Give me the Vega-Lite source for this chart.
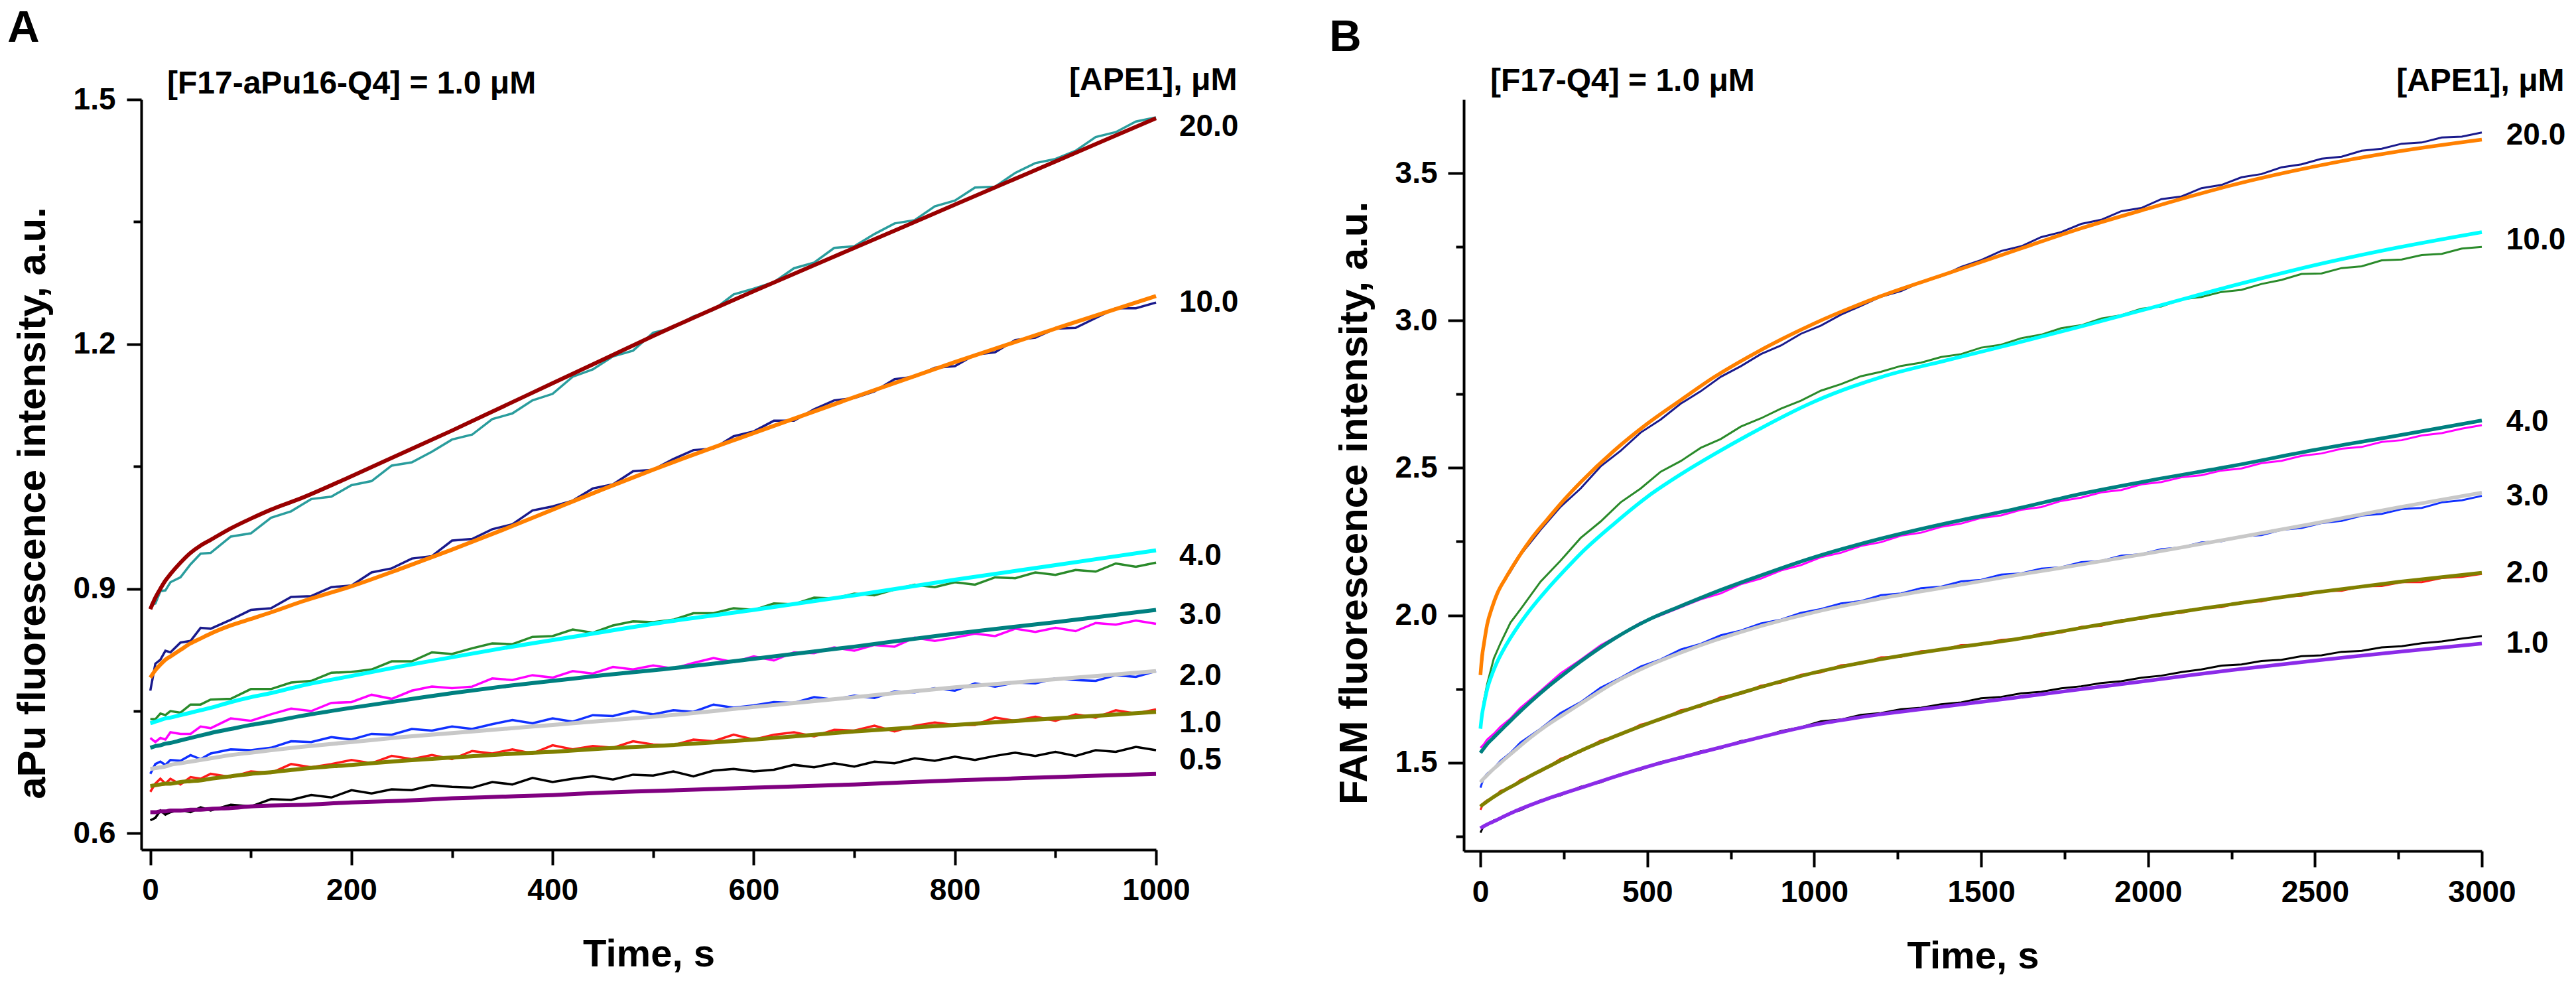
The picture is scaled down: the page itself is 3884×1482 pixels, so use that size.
{
  "$schema": "https://vega.github.io/schema/vega-lite/v6.json",
  "background": "white",
  "padding": {"left": 11, "top": 8, "right": 5, "bottom": 5},
  "spacing": 136,
  "bounds": "full",
  "align": "none",
  "resolve": {"scale": {"color": "independent", "x": "independent", "y": "independent"}},
  "config": {
    "view": {"stroke": null},
    "font": "Liberation Sans",
    "axis": {
      "grid": false, "domainColor": "#000", "domainWidth": 4, "tickColor": "#000", "tickWidth": 4,
      "labelColor": "#000", "labelFont": "Liberation Sans", "labelFontSize": 46, "labelFontWeight": "bold",
      "titleColor": "#000", "titleFont": "Liberation Sans", "titleFontSize": 58, "titleFontWeight": "bold",
      "labelFlush": false, "labelOverlap": false, "labelBound": false
    },
    "text": {"font": "Liberation Sans", "fontWeight": "bold", "color": "#000"}
  },
  "datasets": {
    "aData": [
      {"t":0,"a":0.880,"b":0.775,"c":0.740,"d":0.717,"e":0.673,"f":0.651,"g":0.616},
      {"t":5,"a":0.882,"b":0.808,"c":0.740,"d":0.712,"e":0.685,"f":0.661,"g":0.619},
      {"t":10,"a":0.897,"b":0.813,"c":0.747,"d":0.717,"e":0.688,"f":0.667,"g":0.628},
      {"t":15,"a":0.898,"b":0.824,"c":0.745,"d":0.715,"e":0.684,"f":0.661,"g":0.623},
      {"t":20,"a":0.908,"b":0.822,"c":0.750,"d":0.724,"e":0.690,"f":0.667,"g":0.626},
      {"t":30,"a":0.914,"b":0.834,"c":0.748,"d":0.722,"e":0.689,"f":0.660,"g":0.629},
      {"t":40,"a":0.930,"b":0.836,"c":0.758,"d":0.722,"e":0.696,"f":0.669,"g":0.626},
      {"t":50,"a":0.943,"b":0.852,"c":0.758,"d":0.731,"e":0.691,"f":0.667,"g":0.632},
      {"t":60,"a":0.944,"b":0.851,"c":0.764,"d":0.729,"e":0.698,"f":0.673,"g":0.628},
      {"t":80,"a":0.964,"b":0.862,"c":0.765,"d":0.741,"e":0.703,"f":0.669,"g":0.635},
      {"t":100,"a":0.968,"b":0.874,"c":0.777,"d":0.738,"e":0.702,"f":0.676,"g":0.633},
      {"t":120,"a":0.987,"b":0.876,"c":0.777,"d":0.746,"e":0.705,"f":0.674,"g":0.642},
      {"t":140,"a":0.995,"b":0.890,"c":0.785,"d":0.753,"e":0.713,"f":0.685,"g":0.641},
      {"t":160,"a":1.010,"b":0.891,"c":0.787,"d":0.750,"e":0.712,"f":0.681,"g":0.647},
      {"t":180,"a":1.013,"b":0.902,"c":0.797,"d":0.760,"e":0.718,"f":0.685,"g":0.644},
      {"t":200,"a":1.027,"b":0.904,"c":0.798,"d":0.761,"e":0.715,"f":0.690,"g":0.653},
      {"t":220,"a":1.032,"b":0.920,"c":0.801,"d":0.770,"e":0.722,"f":0.686,"g":0.649},
      {"t":240,"a":1.051,"b":0.925,"c":0.811,"d":0.765,"e":0.721,"f":0.695,"g":0.654},
      {"t":260,"a":1.055,"b":0.937,"c":0.811,"d":0.775,"e":0.728,"f":0.691,"g":0.653},
      {"t":280,"a":1.068,"b":0.940,"c":0.822,"d":0.780,"e":0.726,"f":0.696,"g":0.659},
      {"t":300,"a":1.083,"b":0.959,"c":0.820,"d":0.778,"e":0.731,"f":0.691,"g":0.657},
      {"t":320,"a":1.089,"b":0.961,"c":0.827,"d":0.780,"e":0.728,"f":0.701,"g":0.656},
      {"t":340,"a":1.108,"b":0.973,"c":0.833,"d":0.790,"e":0.734,"f":0.698,"g":0.663},
      {"t":360,"a":1.115,"b":0.979,"c":0.832,"d":0.788,"e":0.739,"f":0.703,"g":0.660},
      {"t":380,"a":1.131,"b":0.996,"c":0.841,"d":0.794,"e":0.735,"f":0.698,"g":0.668},
      {"t":400,"a":1.139,"b":1.001,"c":0.842,"d":0.791,"e":0.741,"f":0.708,"g":0.663},
      {"t":420,"a":1.160,"b":1.008,"c":0.850,"d":0.799,"e":0.737,"f":0.703,"g":0.667},
      {"t":440,"a":1.169,"b":1.023,"c":0.846,"d":0.796,"e":0.745,"f":0.707,"g":0.670},
      {"t":460,"a":1.185,"b":1.028,"c":0.855,"d":0.804,"e":0.744,"f":0.705,"g":0.666},
      {"t":480,"a":1.192,"b":1.044,"c":0.860,"d":0.801,"e":0.750,"f":0.713,"g":0.672},
      {"t":500,"a":1.214,"b":1.046,"c":0.859,"d":0.806,"e":0.746,"f":0.709,"g":0.671},
      {"t":520,"a":1.220,"b":1.059,"c":0.862,"d":0.802,"e":0.751,"f":0.708,"g":0.676},
      {"t":540,"a":1.234,"b":1.070,"c":0.870,"d":0.809,"e":0.749,"f":0.715,"g":0.670},
      {"t":560,"a":1.242,"b":1.072,"c":0.870,"d":0.815,"e":0.758,"f":0.713,"g":0.677},
      {"t":580,"a":1.261,"b":1.087,"c":0.876,"d":0.810,"e":0.754,"f":0.721,"g":0.679},
      {"t":600,"a":1.268,"b":1.093,"c":0.874,"d":0.817,"e":0.757,"f":0.715,"g":0.676},
      {"t":620,"a":1.276,"b":1.106,"c":0.882,"d":0.812,"e":0.761,"f":0.721,"g":0.678},
      {"t":640,"a":1.293,"b":1.106,"c":0.881,"d":0.822,"e":0.760,"f":0.724,"g":0.684},
      {"t":660,"a":1.300,"b":1.120,"c":0.889,"d":0.821,"e":0.767,"f":0.719,"g":0.681},
      {"t":680,"a":1.318,"b":1.131,"c":0.888,"d":0.828,"e":0.764,"f":0.727,"g":0.686},
      {"t":700,"a":1.320,"b":1.134,"c":0.894,"d":0.824,"e":0.769,"f":0.726,"g":0.682},
      {"t":720,"a":1.335,"b":1.142,"c":0.892,"d":0.831,"e":0.766,"f":0.732,"g":0.688},
      {"t":740,"a":1.348,"b":1.157,"c":0.899,"d":0.829,"e":0.774,"f":0.725,"g":0.686},
      {"t":760,"a":1.352,"b":1.160,"c":0.905,"d":0.840,"e":0.773,"f":0.732,"g":0.692},
      {"t":780,"a":1.369,"b":1.171,"c":0.902,"d":0.836,"e":0.778,"f":0.736,"g":0.689},
      {"t":800,"a":1.376,"b":1.173,"c":0.908,"d":0.840,"e":0.775,"f":0.733,"g":0.694},
      {"t":820,"a":1.392,"b":1.187,"c":0.905,"d":0.845,"e":0.784,"f":0.733,"g":0.690},
      {"t":840,"a":1.393,"b":1.190,"c":0.914,"d":0.842,"e":0.780,"f":0.742,"g":0.695},
      {"t":860,"a":1.410,"b":1.205,"c":0.913,"d":0.851,"e":0.785,"f":0.738,"g":0.699},
      {"t":880,"a":1.422,"b":1.208,"c":0.920,"d":0.847,"e":0.784,"f":0.743,"g":0.695},
      {"t":900,"a":1.427,"b":1.219,"c":0.917,"d":0.852,"e":0.790,"f":0.738,"g":0.700},
      {"t":920,"a":1.437,"b":1.220,"c":0.923,"d":0.848,"e":0.788,"f":0.746,"g":0.695},
      {"t":940,"a":1.454,"b":1.232,"c":0.921,"d":0.858,"e":0.787,"f":0.742,"g":0.702},
      {"t":960,"a":1.460,"b":1.244,"c":0.931,"d":0.856,"e":0.794,"f":0.751,"g":0.700},
      {"t":980,"a":1.473,"b":1.244,"c":0.927,"d":0.861,"e":0.792,"f":0.747,"g":0.706},
      {"t":1000,"a":1.478,"b":1.251,"c":0.932,"d":0.857,"e":0.799,"f":0.752,"g":0.702}
    ],
    "aFit": [
      {"t":0,"a":0.875,"b":0.791,"c":0.735,"d":0.705,"e":0.679,"f":0.658,"g":0.626},
      {"t":5,"a":0.889,"b":0.800,"c":0.737,"d":0.707,"e":0.680,"f":0.659,"g":0.626},
      {"t":10,"a":0.900,"b":0.807,"c":0.739,"d":0.708,"e":0.681,"f":0.660,"g":0.627},
      {"t":15,"a":0.910,"b":0.813,"c":0.741,"d":0.710,"e":0.682,"f":0.661,"g":0.627},
      {"t":20,"a":0.918,"b":0.817,"c":0.742,"d":0.711,"e":0.684,"f":0.661,"g":0.628},
      {"t":30,"a":0.932,"b":0.825,"c":0.745,"d":0.714,"e":0.686,"f":0.663,"g":0.628},
      {"t":40,"a":0.944,"b":0.833,"c":0.748,"d":0.717,"e":0.688,"f":0.664,"g":0.629},
      {"t":50,"a":0.953,"b":0.839,"c":0.751,"d":0.720,"e":0.690,"f":0.665,"g":0.629},
      {"t":60,"a":0.960,"b":0.845,"c":0.754,"d":0.723,"e":0.692,"f":0.667,"g":0.630},
      {"t":80,"a":0.974,"b":0.855,"c":0.761,"d":0.728,"e":0.696,"f":0.670,"g":0.631},
      {"t":100,"a":0.986,"b":0.863,"c":0.767,"d":0.733,"e":0.699,"f":0.673,"g":0.633},
      {"t":120,"a":0.997,"b":0.871,"c":0.772,"d":0.737,"e":0.702,"f":0.675,"g":0.634},
      {"t":150,"a":1.011,"b":0.884,"c":0.781,"d":0.744,"e":0.706,"f":0.679,"g":0.635},
      {"t":200,"a":1.038,"b":0.903,"c":0.793,"d":0.754,"e":0.712,"f":0.684,"g":0.638},
      {"t":250,"a":1.066,"b":0.925,"c":0.805,"d":0.763,"e":0.718,"f":0.689,"g":0.640},
      {"t":300,"a":1.094,"b":0.948,"c":0.816,"d":0.772,"e":0.723,"f":0.693,"g":0.643},
      {"t":350,"a":1.123,"b":0.972,"c":0.827,"d":0.780,"e":0.728,"f":0.697,"g":0.645},
      {"t":400,"a":1.152,"b":0.997,"c":0.837,"d":0.787,"e":0.733,"f":0.700,"g":0.647},
      {"t":450,"a":1.181,"b":1.022,"c":0.847,"d":0.794,"e":0.738,"f":0.704,"g":0.650},
      {"t":500,"a":1.210,"b":1.046,"c":0.857,"d":0.800,"e":0.743,"f":0.707,"g":0.652},
      {"t":600,"a":1.265,"b":1.091,"c":0.874,"d":0.814,"e":0.755,"f":0.715,"g":0.656},
      {"t":700,"a":1.318,"b":1.135,"c":0.892,"d":0.829,"e":0.767,"f":0.725,"g":0.660},
      {"t":800,"a":1.371,"b":1.178,"c":0.911,"d":0.845,"e":0.779,"f":0.733,"g":0.665},
      {"t":900,"a":1.424,"b":1.219,"c":0.929,"d":0.859,"e":0.789,"f":0.741,"g":0.669},
      {"t":1000,"a":1.477,"b":1.259,"c":0.947,"d":0.874,"e":0.799,"f":0.749,"g":0.673}
    ],
    "bData": [
      {"t":0,"a":1.800,"b":1.618,"c":1.550,"d":1.415,"e":1.340,"f":1.262},
      {"t":10,"a":1.895,"b":1.708,"c":1.562,"d":1.448,"e":1.364,"f":1.286},
      {"t":20,"a":1.972,"b":1.766,"c":1.578,"d":1.462,"e":1.372,"f":1.288},
      {"t":40,"a":2.041,"b":1.853,"c":1.598,"d":1.480,"e":1.381,"f":1.304},
      {"t":60,"a":2.098,"b":1.905,"c":1.622,"d":1.506,"e":1.404,"f":1.309},
      {"t":90,"a":2.148,"b":1.975,"c":1.650,"d":1.533,"e":1.414,"f":1.330},
      {"t":120,"a":2.205,"b":2.020,"c":1.686,"d":1.568,"e":1.442,"f":1.338},
      {"t":180,"a":2.290,"b":2.114,"c":1.743,"d":1.615,"e":1.469,"f":1.372},
      {"t":240,"a":2.368,"b":2.185,"c":1.803,"d":1.668,"e":1.513,"f":1.389},
      {"t":300,"a":2.430,"b":2.262,"c":1.849,"d":1.705,"e":1.537,"f":1.418},
      {"t":360,"a":2.505,"b":2.318,"c":1.898,"d":1.754,"e":1.575,"f":1.433},
      {"t":420,"a":2.558,"b":2.383,"c":1.935,"d":1.788,"e":1.594,"f":1.461},
      {"t":480,"a":2.620,"b":2.430,"c":1.975,"d":1.826,"e":1.629,"f":1.476},
      {"t":540,"a":2.664,"b":2.487,"c":2.000,"d":1.850,"e":1.645,"f":1.502},
      {"t":600,"a":2.718,"b":2.523,"c":2.027,"d":1.884,"e":1.678,"f":1.514},
      {"t":660,"a":2.760,"b":2.568,"c":2.054,"d":1.903,"e":1.690,"f":1.538},
      {"t":720,"a":2.809,"b":2.598,"c":2.074,"d":1.932,"e":1.722,"f":1.549},
      {"t":780,"a":2.845,"b":2.640,"c":2.105,"d":1.948,"e":1.733,"f":1.573},
      {"t":840,"a":2.886,"b":2.668,"c":2.124,"d":1.972,"e":1.761,"f":1.584},
      {"t":900,"a":2.915,"b":2.701,"c":2.152,"d":1.985,"e":1.771,"f":1.607},
      {"t":960,"a":2.955,"b":2.728,"c":2.170,"d":2.008,"e":1.798,"f":1.620},
      {"t":1020,"a":2.983,"b":2.762,"c":2.197,"d":2.021,"e":1.806,"f":1.640},
      {"t":1080,"a":3.020,"b":2.784,"c":2.212,"d":2.040,"e":1.830,"f":1.646},
      {"t":1140,"a":3.050,"b":2.811,"c":2.235,"d":2.048,"e":1.835,"f":1.662},
      {"t":1200,"a":3.081,"b":2.826,"c":2.248,"d":2.068,"e":1.857,"f":1.668},
      {"t":1260,"a":3.100,"b":2.846,"c":2.270,"d":2.074,"e":1.859,"f":1.681},
      {"t":1320,"a":3.131,"b":2.857,"c":2.280,"d":2.092,"e":1.878,"f":1.686},
      {"t":1380,"a":3.150,"b":2.876,"c":2.300,"d":2.097,"e":1.881,"f":1.698},
      {"t":1440,"a":3.182,"b":2.886,"c":2.311,"d":2.115,"e":1.899,"f":1.704},
      {"t":1500,"a":3.205,"b":2.908,"c":2.330,"d":2.120,"e":1.900,"f":1.718},
      {"t":1560,"a":3.236,"b":2.918,"c":2.339,"d":2.138,"e":1.917,"f":1.723},
      {"t":1620,"a":3.252,"b":2.940,"c":2.358,"d":2.142,"e":1.919,"f":1.735},
      {"t":1680,"a":3.283,"b":2.952,"c":2.367,"d":2.158,"e":1.938,"f":1.740},
      {"t":1740,"a":3.300,"b":2.974,"c":2.388,"d":2.163,"e":1.941,"f":1.752},
      {"t":1800,"a":3.328,"b":2.984,"c":2.399,"d":2.180,"e":1.961,"f":1.759},
      {"t":1860,"a":3.342,"b":3.007,"c":2.417,"d":2.184,"e":1.964,"f":1.770},
      {"t":1920,"a":3.371,"b":3.018,"c":2.425,"d":2.202,"e":1.984,"f":1.776},
      {"t":1980,"a":3.382,"b":3.040,"c":2.444,"d":2.207,"e":1.987,"f":1.788},
      {"t":2040,"a":3.412,"b":3.048,"c":2.452,"d":2.224,"e":2.005,"f":1.795},
      {"t":2100,"a":3.421,"b":3.072,"c":2.468,"d":2.230,"e":2.008,"f":1.807},
      {"t":2160,"a":3.449,"b":3.080,"c":2.475,"d":2.247,"e":2.025,"f":1.816},
      {"t":2220,"a":3.460,"b":3.097,"c":2.491,"d":2.251,"e":2.027,"f":1.829},
      {"t":2280,"a":3.486,"b":3.104,"c":2.498,"d":2.268,"e":2.045,"f":1.833},
      {"t":2340,"a":3.497,"b":3.124,"c":2.516,"d":2.272,"e":2.047,"f":1.845},
      {"t":2400,"a":3.520,"b":3.138,"c":2.524,"d":2.290,"e":2.063,"f":1.849},
      {"t":2460,"a":3.530,"b":3.158,"c":2.541,"d":2.296,"e":2.066,"f":1.861},
      {"t":2520,"a":3.549,"b":3.160,"c":2.549,"d":2.313,"e":2.082,"f":1.864},
      {"t":2580,"a":3.556,"b":3.178,"c":2.565,"d":2.320,"e":2.083,"f":1.876},
      {"t":2640,"a":3.576,"b":3.184,"c":2.571,"d":2.338,"e":2.098,"f":1.879},
      {"t":2700,"a":3.583,"b":3.204,"c":2.588,"d":2.344,"e":2.099,"f":1.891},
      {"t":2760,"a":3.600,"b":3.207,"c":2.594,"d":2.360,"e":2.112,"f":1.895},
      {"t":2820,"a":3.604,"b":3.222,"c":2.610,"d":2.364,"e":2.112,"f":1.905},
      {"t":2880,"a":3.621,"b":3.226,"c":2.618,"d":2.383,"e":2.126,"f":1.911},
      {"t":2940,"a":3.624,"b":3.244,"c":2.633,"d":2.390,"e":2.130,"f":1.921},
      {"t":3000,"a":3.638,"b":3.250,"c":2.645,"d":2.405,"e":2.140,"f":1.929}
    ],
    "bFit": [
      {"t":0,"a":1.797,"b":1.615,"c":1.533,"d":1.433,"e":1.351,"f":1.277},
      {"t":5,"a":1.862,"b":1.665,"c":1.541,"d":1.440,"e":1.356,"f":1.281},
      {"t":10,"a":1.900,"b":1.695,"c":1.548,"d":1.446,"e":1.360,"f":1.284},
      {"t":20,"a":1.968,"b":1.748,"c":1.563,"d":1.457,"e":1.368,"f":1.290},
      {"t":35,"a":2.027,"b":1.800,"c":1.580,"d":1.474,"e":1.380,"f":1.298},
      {"t":50,"a":2.073,"b":1.841,"c":1.597,"d":1.489,"e":1.391,"f":1.306},
      {"t":75,"a":2.125,"b":1.895,"c":1.625,"d":1.514,"e":1.408,"f":1.320},
      {"t":100,"a":2.172,"b":1.941,"c":1.653,"d":1.538,"e":1.423,"f":1.333},
      {"t":150,"a":2.256,"b":2.020,"c":1.706,"d":1.585,"e":1.455,"f":1.356},
      {"t":200,"a":2.325,"b":2.088,"c":1.755,"d":1.627,"e":1.484,"f":1.377},
      {"t":250,"a":2.391,"b":2.150,"c":1.800,"d":1.664,"e":1.513,"f":1.396},
      {"t":300,"a":2.451,"b":2.209,"c":1.843,"d":1.700,"e":1.540,"f":1.414},
      {"t":400,"a":2.558,"b":2.310,"c":1.920,"d":1.771,"e":1.588,"f":1.451},
      {"t":500,"a":2.650,"b":2.402,"c":1.983,"d":1.827,"e":1.632,"f":1.486},
      {"t":600,"a":2.730,"b":2.478,"c":2.031,"d":1.873,"e":1.672,"f":1.517},
      {"t":700,"a":2.808,"b":2.546,"c":2.077,"d":1.914,"e":1.709,"f":1.546},
      {"t":800,"a":2.875,"b":2.610,"c":2.119,"d":1.950,"e":1.743,"f":1.575},
      {"t":1000,"a":2.990,"b":2.725,"c":2.197,"d":2.010,"e":1.805,"f":1.628},
      {"t":1200,"a":3.083,"b":2.808,"c":2.260,"d":2.057,"e":1.851,"f":1.664},
      {"t":1400,"a":3.160,"b":2.866,"c":2.313,"d":2.096,"e":1.887,"f":1.692},
      {"t":1600,"a":3.237,"b":2.922,"c":2.360,"d":2.135,"e":1.918,"f":1.720},
      {"t":1800,"a":3.313,"b":2.980,"c":2.412,"d":2.172,"e":1.957,"f":1.749},
      {"t":2000,"a":3.380,"b":3.040,"c":2.456,"d":2.210,"e":1.995,"f":1.778},
      {"t":2250,"a":3.459,"b":3.117,"c":2.506,"d":2.260,"e":2.037,"f":1.814},
      {"t":2500,"a":3.523,"b":3.188,"c":2.561,"d":2.312,"e":2.077,"f":1.846},
      {"t":2750,"a":3.574,"b":3.248,"c":2.610,"d":2.366,"e":2.113,"f":1.876},
      {"t":3000,"a":3.614,"b":3.300,"c":2.661,"d":2.416,"e":2.144,"f":1.904}
    ]
  },
  "hconcat": [
    {
      "width": 1530,
      "height": 1131,
      "resolve": {"scale": {"color": "independent"}, "axis": {"x": "independent", "y": "independent"}},
      "layer": [
        {
          "data": {"name": "aData"},
          "transform": [{"fold": ["a", "b", "c", "d", "e", "f", "g"], "as": ["s", "v"]}],
          "mark": {"type": "line", "strokeWidth": 3.5},
          "encoding": {
            "x": {"field": "t", "type": "quantitative", "scale": {"domain": [-9, 1000], "nice": false, "zero": false},
              "axis": {"orient": "bottom", "values": [0, 200, 400, 600, 800, 1000], "format": "d", "title": "Time, s", "tickSize": 23, "labelPadding": 16, "titlePadding": 45}},
            "y": {"field": "v", "type": "quantitative", "scale": {"domain": [0.58, 1.5], "nice": false, "zero": false},
              "axis": {"orient": "left", "values": [0.6, 0.9, 1.2, 1.5], "format": ".1f", "title": "aPu fluorescence intensity, a.u.", "titleFontSize": 60, "tickSize": 22, "labelPadding": 17, "titlePadding": 30, "titleY": 608}},
            "color": {"field": "s", "type": "nominal", "legend": null,
              "scale": {"domain": ["a", "b", "c", "d", "e", "f", "g"], "range": ["#2a9d9d", "#1a1a8c", "#2a8a2a", "#ff00ff", "#1030ff", "#ff1a1a", "#000000"]}}
          }
        },
        {
          "data": {"name": "aFit"},
          "transform": [{"fold": ["a", "b", "c", "d", "e", "f", "g"], "as": ["s", "v"]}],
          "mark": {"type": "line", "strokeWidth": 6, "interpolate": "monotone"},
          "encoding": {
            "x": {"field": "t", "type": "quantitative", "scale": {"domain": [-9, 1000], "nice": false, "zero": false},
              "axis": {"orient": "bottom", "values": [100, 300, 500, 700, 900], "tickSize": 12, "labels": false, "domain": false, "title": null}},
            "y": {"field": "v", "type": "quantitative", "scale": {"domain": [0.58, 1.5], "nice": false, "zero": false},
              "axis": {"orient": "left", "values": [0.75, 1.05, 1.35], "tickSize": 12, "labels": false, "domain": false, "title": null}},
            "color": {"field": "s", "type": "nominal", "legend": null,
              "scale": {"domain": ["a", "b", "c", "d", "e", "f", "g"], "range": ["#990000", "#ff8000", "#00ffff", "#008080", "#c8c8c8", "#808000", "#800080"]}}
          }
        },
        {
          "data": {"values": [
            {"t": 1023, "v": 1.467, "l": "20.0"},
            {"t": 1023, "v": 1.251, "l": "10.0"},
            {"t": 1023, "v": 0.940, "l": "4.0"},
            {"t": 1023, "v": 0.868, "l": "3.0"},
            {"t": 1023, "v": 0.793, "l": "2.0"},
            {"t": 1023, "v": 0.735, "l": "1.0"},
            {"t": 1023, "v": 0.690, "l": "0.5"}
          ]},
          "mark": {"type": "text", "align": "left", "baseline": "middle", "fontSize": 46},
          "encoding": {
            "x": {"field": "t", "type": "quantitative", "scale": {"domain": [-9, 1000], "nice": false, "zero": false}, "axis": null},
            "y": {"field": "v", "type": "quantitative", "scale": {"domain": [0.58, 1.5], "nice": false, "zero": false}, "axis": null},
            "text": {"field": "l"}
          }
        },
        {
          "data": {"values": [
            {"t": 16.7, "v": 1.519, "l": "[F17-aPu16-Q4] = 1.0 μM"},
            {"t": 913.6, "v": 1.523, "l": "[APE1], μM"}
          ]},
          "mark": {"type": "text", "align": "left", "baseline": "middle", "fontSize": 48},
          "encoding": {
            "x": {"field": "t", "type": "quantitative", "scale": {"domain": [-9, 1000], "nice": false, "zero": false}, "axis": null},
            "y": {"field": "v", "type": "quantitative", "scale": {"domain": [0.58, 1.5], "nice": false, "zero": false}, "axis": null},
            "text": {"field": "l"}
          }
        },
        {
          "data": {"values": [{"t": -142, "v": 1.5873, "l": "A"}]},
          "mark": {"type": "text", "align": "left", "baseline": "middle", "fontSize": 67},
          "encoding": {
            "x": {"field": "t", "type": "quantitative", "scale": {"domain": [-9, 1000], "nice": false, "zero": false}, "axis": null},
            "y": {"field": "v", "type": "quantitative", "scale": {"domain": [0.58, 1.5], "nice": false, "zero": false}, "axis": null},
            "text": {"field": "l"}
          }
        }
      ]
    },
    {
      "width": 1535,
      "height": 1133,
      "resolve": {"scale": {"color": "independent"}, "axis": {"x": "independent", "y": "independent"}},
      "layer": [
        {
          "data": {"name": "bData"},
          "transform": [{"fold": ["a", "b", "c", "d", "e", "f"], "as": ["s", "v"]}],
          "mark": {"type": "line", "strokeWidth": 3},
          "encoding": {
            "x": {"field": "t", "type": "quantitative", "scale": {"domain": [-50, 3000], "nice": false, "zero": false},
              "axis": {"orient": "bottom", "values": [0, 500, 1000, 1500, 2000, 2500, 3000], "format": "d", "title": "Time, s", "tickSize": 24, "labelPadding": 16, "titlePadding": 45}},
            "y": {"field": "v", "type": "quantitative", "scale": {"domain": [1.2, 3.75], "nice": false, "zero": false},
              "axis": {"orient": "left", "values": [1.5, 2.0, 2.5, 3.0, 3.5], "format": ".1f", "title": "FAM fluorescence intensity, a.u.", "titleFontSize": 60, "tickSize": 24, "labelPadding": 16, "titlePadding": 30, "titleY": 608}},
            "color": {"field": "s", "type": "nominal", "legend": null,
              "scale": {"domain": ["a", "b", "c", "d", "e", "f"], "range": ["#1a1a8c", "#2a8a2a", "#ff00ff", "#1030ff", "#ff1a1a", "#000000"]}}
          }
        },
        {
          "data": {"name": "bFit"},
          "transform": [{"fold": ["a", "b", "c", "d", "e", "f"], "as": ["s", "v"]}],
          "mark": {"type": "line", "strokeWidth": 5.5, "interpolate": "monotone"},
          "encoding": {
            "x": {"field": "t", "type": "quantitative", "scale": {"domain": [-50, 3000], "nice": false, "zero": false},
              "axis": {"orient": "bottom", "values": [250, 750, 1250, 1750, 2250, 2750], "tickSize": 12, "labels": false, "domain": false, "title": null}},
            "y": {"field": "v", "type": "quantitative", "scale": {"domain": [1.2, 3.75], "nice": false, "zero": false},
              "axis": {"orient": "left", "values": [1.25, 1.75, 2.25, 2.75, 3.25], "tickSize": 12, "labels": false, "domain": false, "title": null}},
            "color": {"field": "s", "type": "nominal", "legend": null,
              "scale": {"domain": ["a", "b", "c", "d", "e", "f"], "range": ["#ff8000", "#00ffff", "#008080", "#c8c8c8", "#808000", "#8b2be8"]}}
          }
        },
        {
          "data": {"values": [
            {"t": 3073, "v": 3.629, "l": "20.0"},
            {"t": 3073, "v": 3.273, "l": "10.0"},
            {"t": 3073, "v": 2.656, "l": "4.0"},
            {"t": 3073, "v": 2.404, "l": "3.0"},
            {"t": 3073, "v": 2.143, "l": "2.0"},
            {"t": 3073, "v": 1.904, "l": "1.0"}
          ]},
          "mark": {"type": "text", "align": "left", "baseline": "middle", "fontSize": 46},
          "encoding": {
            "x": {"field": "t", "type": "quantitative", "scale": {"domain": [-50, 3000], "nice": false, "zero": false}, "axis": null},
            "y": {"field": "v", "type": "quantitative", "scale": {"domain": [1.2, 3.75], "nice": false, "zero": false}, "axis": null},
            "text": {"field": "l"}
          }
        },
        {
          "data": {"values": [
            {"t": 29.5, "v": 3.810, "l": "[F17-Q4] = 1.0 μM"},
            {"t": 2744, "v": 3.810, "l": "[APE1], μM"}
          ]},
          "mark": {"type": "text", "align": "left", "baseline": "middle", "fontSize": 48},
          "encoding": {
            "x": {"field": "t", "type": "quantitative", "scale": {"domain": [-50, 3000], "nice": false, "zero": false}, "axis": null},
            "y": {"field": "v", "type": "quantitative", "scale": {"domain": [1.2, 3.75], "nice": false, "zero": false}, "axis": null},
            "text": {"field": "l"}
          }
        },
        {
          "data": {"values": [{"t": -453, "v": 3.9602, "l": "B"}]},
          "mark": {"type": "text", "align": "left", "baseline": "middle", "fontSize": 67},
          "encoding": {
            "x": {"field": "t", "type": "quantitative", "scale": {"domain": [-50, 3000], "nice": false, "zero": false}, "axis": null},
            "y": {"field": "v", "type": "quantitative", "scale": {"domain": [1.2, 3.75], "nice": false, "zero": false}, "axis": null},
            "text": {"field": "l"}
          }
        }
      ]
    }
  ]
}
